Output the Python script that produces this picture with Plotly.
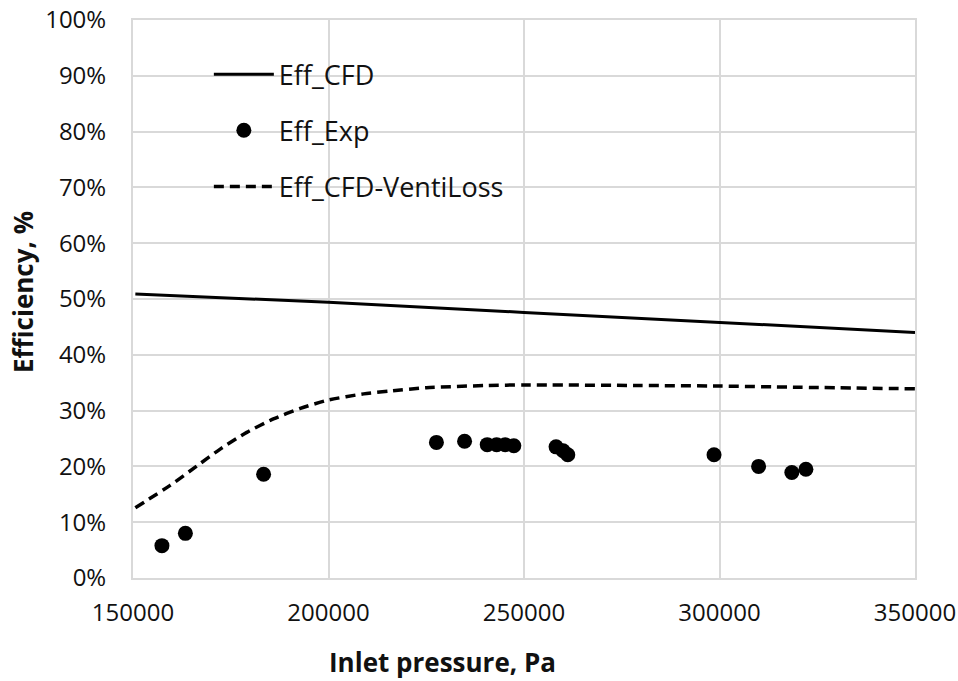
import plotly.graph_objects as go

# CFD efficiency vs inlet pressure
cfd_pressure = [150600, 200000, 250000, 300000, 350000]
cfd_eff = [0.509, 0.494, 0.476, 0.458, 0.440]

# CFD efficiency with ventilation loss
venti_pressure = [150600, 159500, 166400, 172300, 179100, 185900, 192800, 200000,
                  209000, 215800, 225000, 240600, 250000, 279700, 300000, 318800,
                  350000]
venti_eff = [0.126, 0.166, 0.201, 0.231, 0.261, 0.285, 0.304, 0.319,
             0.330, 0.335, 0.341, 0.345, 0.346, 0.345, 0.344, 0.342,
             0.339]

# Experimental efficiency
exp_pressure = [157400, 163400, 183400, 227600, 234800, 240600, 243000, 245200,
                247400, 258200, 260000, 261200, 298600, 310000, 318500, 322100]
exp_eff = [0.058, 0.080, 0.186, 0.243, 0.245, 0.239, 0.239, 0.239,
           0.237, 0.235, 0.228, 0.221, 0.221, 0.200, 0.189, 0.195]

x_ticks = [150000, 200000, 250000, 300000, 350000]
y_ticks = [i / 10 for i in range(11)]

FONT = "Open Sans"
GRID = "#d9d9d9"
INK = "#111111"

W, H = 958, 681
ML, MR, MT, MB = 133, 43, 20, 103
PW, PH = W - ML - MR, H - MT - MB

fig = go.Figure()
fig.add_trace(go.Scatter(
    x=cfd_pressure, y=cfd_eff, mode="lines", name="Eff_CFD",
    line=dict(color="black", width=3), legendgroup="a"))
fig.add_trace(go.Scatter(
    x=exp_pressure, y=exp_eff, mode="markers", name="Eff_Exp",
    marker=dict(color="black", size=15, symbol="circle"), legendgroup="b"))
fig.add_trace(go.Scatter(
    x=venti_pressure, y=venti_eff, mode="lines", name="Eff_CFD-VentiLoss",
    line=dict(color="black", width=3.5, dash="10px,6px", shape="spline",
              smoothing=0.6),
    legendgroup="c"))

fig.update_layout(
    width=W, height=H,
    margin=dict(l=ML, r=MR, t=MT, b=MB, autoexpand=False),
    paper_bgcolor="white", plot_bgcolor="white",
    font=dict(family=FONT, color=INK, size=24),
    showlegend=True,
    legend=dict(
        x=0.097, y=0.946, xanchor="left", yanchor="top",
        bgcolor="rgba(0,0,0,0)", itemwidth=60,
        tracegroupgap=18, font=dict(family=FONT, size=27, color=INK)),
)

fig.update_xaxes(
    range=[150000, 350000], tickvals=x_ticks,
    ticktext=[str(v) for v in x_ticks],
    showgrid=True, gridcolor=GRID, gridwidth=2,
    showline=True, linecolor=GRID, linewidth=2, mirror=True,
    ticks="", ticklabelstandoff=12, zeroline=False, automargin=False,
)
fig.update_yaxes(
    range=[0, 1], tickvals=y_ticks, tickformat=".0%",
    showgrid=True, gridcolor=GRID, gridwidth=2,
    showline=True, linecolor=GRID, linewidth=2, mirror=True,
    ticks="", ticklabelstandoff=20, zeroline=False, automargin=False,
)

# Axis titles
fig.add_annotation(
    text="<b>Inlet pressure, Pa</b>", showarrow=False,
    xref="paper", yref="paper",
    x=(442 - ML) / PW, y=-(662 - MT - PH) / PH,
    xanchor="center", yanchor="middle",
    font=dict(family=FONT, size=26, color=INK))
fig.add_annotation(
    text="<b>Efficiency, %</b>", showarrow=False, textangle=-90,
    xref="paper", yref="paper",
    x=-(ML - 23) / PW, y=1 - (292 - MT) / PH,
    xanchor="center", yanchor="middle",
    font=dict(family=FONT, size=26, color=INK))

fig.write_html("out.html")
